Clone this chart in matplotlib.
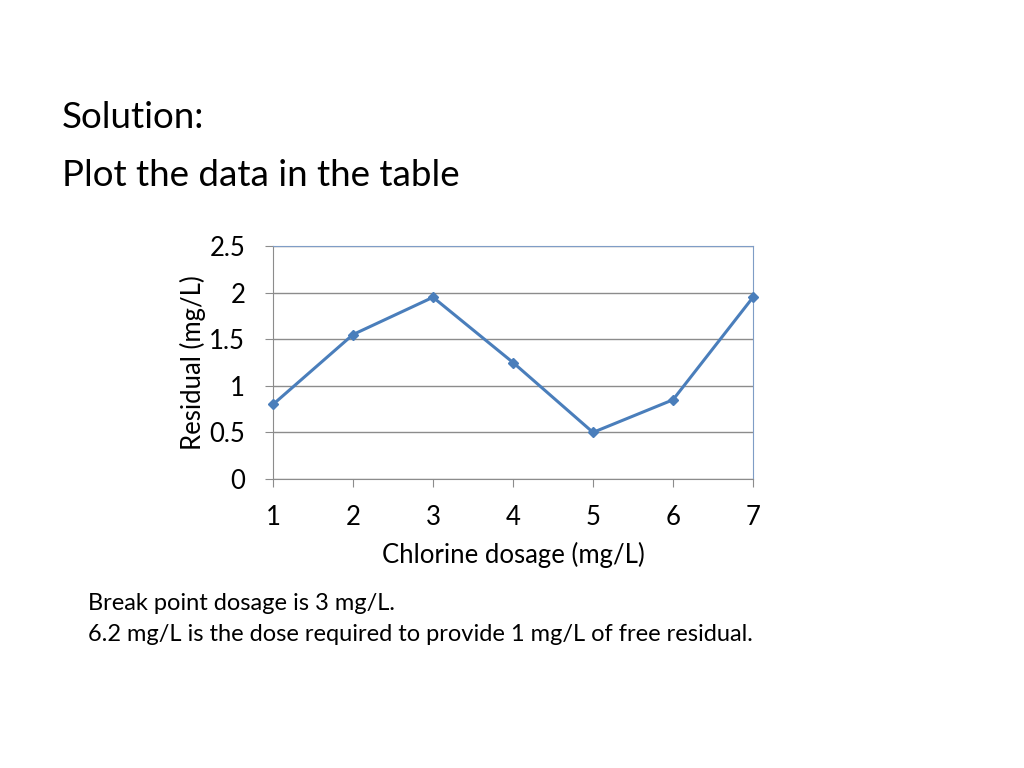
import numpy as np
import matplotlib
matplotlib.use('Agg')
import matplotlib.pyplot as plt

plt.rcParams['font.family'] = ['Lato', 'DejaVu Sans']

# data
dosage = [1, 2, 3, 4, 5, 6, 7]
residual = [0.8, 1.55, 1.95, 1.25, 0.5, 0.85, 1.95]
y_ticks = [0, 0.5, 1, 1.5, 2, 2.5]
y_labels = ['0', '0.5', '1', '1.5', '2', '2.5']

fig = plt.figure(figsize=(10.24, 7.68), dpi=100)
fig.patch.set_facecolor('white')

fig.text(62/1024, 1 - 128/768, 'Solution:', fontsize=26.5, va='baseline', ha='left')
fig.text(62/1024, 1 - 186/768, 'Plot the data in the table', fontsize=26.5, va='baseline', ha='left')

ax = fig.add_axes([273/1024, 1 - 479/768, 480/1024, 233/768])
ax.plot(dosage, residual, color='#4A7EBB', lw=2.2, marker='D', ms=5.5, zorder=3, clip_on=False)

ax.set_xlim(1, 7)
ax.set_ylim(0, 2.5)
ax.set_xticks(dosage)
ax.set_yticks(y_ticks)
ax.set_yticklabels(y_labels)
ax.grid(axis='y', color='#8C8C8C', lw=1)
ax.set_axisbelow(True)

for side in ['left', 'bottom']:
    ax.spines[side].set_color('#8C8C8C')
for side in ['top', 'right']:
    ax.spines[side].set_color('#7F9DC6')

ax.tick_params(axis='both', direction='out', length=6, color='#8C8C8C', labelsize=18.5)
ax.tick_params(axis='x', pad=13)
ax.tick_params(axis='y', pad=14)

ax.set_xlabel('Chlorine dosage (mg/L)', fontsize=18.5, labelpad=8)
ax.set_ylabel('Residual (mg/L)', fontsize=18.5, labelpad=2)

fig.text(88/1024, 1 - 610/768, 'Break point dosage is 3 mg/L.', fontsize=17, va='baseline', ha='left')
fig.text(88/1024, 1 - 641/768, '6.2 mg/L is the dose required to provide 1 mg/L of free residual.',
         fontsize=17, va='baseline', ha='left')

fig.savefig('out.png', dpi=100)
